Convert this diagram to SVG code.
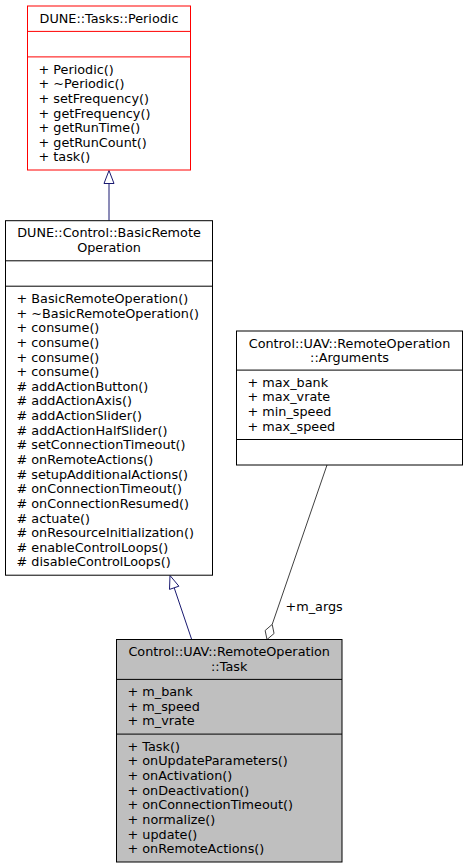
<svg xmlns="http://www.w3.org/2000/svg" width="469" height="868" viewBox="0 0 469 868">
<style>
text{font-family:"DejaVu Sans","Liberation Sans",sans-serif;font-size:12.8px;fill:#000}
.t{text-anchor:middle}
.box{fill:#fff;stroke:#000;stroke-width:1}
.red{fill:#fff;stroke:#ff0000;stroke-width:1}
.cur{fill:#bfbfbf;stroke:#000;stroke-width:1}
.sep{stroke:#000;stroke-width:1}
.sepr{stroke:#ff0000;stroke-width:1}
.inh{stroke:#191970;stroke-width:1;fill:none}
.inhh{stroke:#191970;stroke-width:1;fill:#fff}
.agg{stroke:#404040;stroke-width:1;fill:none}
.aggh{stroke:#404040;stroke-width:1;fill:#fff}
</style>
<rect width="469" height="868" fill="#fff"/>
<g id="edges">
<line class="inh" x1="109" y1="183.5" x2="109" y2="220.7"/>
<polygon class="inhh" points="109,170.5 104,183.5 114,183.5"/>
<line class="inh" x1="174.2" y1="587.8" x2="191.7" y2="639.5"/>
<polygon class="inhh" points="170,575.5 178.9,586.2 169.5,589.4"/>
<line class="agg" x1="272.2" y1="624.4" x2="327" y2="465"/>
<polygon class="aggh" points="267,639.5 274.05,633.5 272.2,624.4 265.15,630.5"/>
<text x="285.5" y="611">+m_args</text>
</g>
<g id="periodic">
<rect class="red" x="27.5" y="6" width="163" height="164"/>
<line class="sepr" x1="27.5" y1="31.4" x2="190.5" y2="31.4"/>
<line class="sepr" x1="27.5" y1="56.9" x2="190.5" y2="56.9"/>
<text class="t" x="109" y="22.7">DUNE::Tasks::Periodic</text>
<text x="38.5" y="73.6">+ Periodic()</text>
<text x="38.5" y="88.2">+ ~Periodic()</text>
<text x="38.5" y="102.9">+ setFrequency()</text>
<text x="38.5" y="117.5">+ getFrequency()</text>
<text x="38.5" y="132.2">+ getRunTime()</text>
<text x="38.5" y="146.8">+ getRunCount()</text>
<text x="38.5" y="161.4">+ task()</text>
</g>
<g id="basic">
<rect class="box" x="5.5" y="220.7" width="207" height="354.5"/>
<line class="sep" x1="5.5" y1="260.8" x2="212.5" y2="260.8"/>
<line class="sep" x1="5.5" y1="286.2" x2="212.5" y2="286.2"/>
<text class="t" x="109" y="237.4">DUNE::Control::BasicRemote</text>
<text class="t" x="109" y="252">Operation</text>
<text x="16.5" y="302.9">+ BasicRemoteOperation()</text>
<text x="16.5" y="317.5">+ ~BasicRemoteOperation()</text>
<text x="16.5" y="332.2">+ consume()</text>
<text x="16.5" y="346.8">+ consume()</text>
<text x="16.5" y="361.5">+ consume()</text>
<text x="16.5" y="376.1">+ consume()</text>
<text x="16.5" y="390.7"># addActionButton()</text>
<text x="16.5" y="405.4"># addActionAxis()</text>
<text x="16.5" y="420"># addActionSlider()</text>
<text x="16.5" y="434.7"># addActionHalfSlider()</text>
<text x="16.5" y="449.3"># setConnectionTimeout()</text>
<text x="16.5" y="464"># onRemoteActions()</text>
<text x="16.5" y="478.6"># setupAdditionalActions()</text>
<text x="16.5" y="493.2"># onConnectionTimeout()</text>
<text x="16.5" y="507.9"># onConnectionResumed()</text>
<text x="16.5" y="522.5"># actuate()</text>
<text x="16.5" y="537.2"># onResourceInitialization()</text>
<text x="16.5" y="551.8"># enableControlLoops()</text>
<text x="16.5" y="566.4"># disableControlLoops()</text>
</g>
<g id="arguments">
<rect class="box" x="236.5" y="331" width="226" height="134"/>
<line class="sep" x1="236.5" y1="370.1" x2="462.5" y2="370.1"/>
<line class="sep" x1="236.5" y1="439.5" x2="462.5" y2="439.5"/>
<text class="t" x="349.5" y="347.7">Control::UAV::RemoteOperation</text>
<text class="t" x="349.5" y="362.3">::Arguments</text>
<text x="247.5" y="386.8">+ max_bank</text>
<text x="247.5" y="401.4">+ max_vrate</text>
<text x="247.5" y="416.1">+ min_speed</text>
<text x="247.5" y="430.7">+ max_speed</text>
</g>
<g id="task">
<rect class="cur" x="116.5" y="639.5" width="225.5" height="222.5"/>
<line class="sep" x1="116.5" y1="679.4" x2="342" y2="679.4"/>
<line class="sep" x1="116.5" y1="734.1" x2="342" y2="734.1"/>
<text class="t" x="229.2" y="656.2">Control::UAV::RemoteOperation</text>
<text class="t" x="229.2" y="670.8">::Task</text>
<text x="127.5" y="696.1">+ m_bank</text>
<text x="127.5" y="710.7">+ m_speed</text>
<text x="127.5" y="725.4">+ m_vrate</text>
<text x="127.5" y="750.8">+ Task()</text>
<text x="127.5" y="765.4">+ onUpdateParameters()</text>
<text x="127.5" y="780.1">+ onActivation()</text>
<text x="127.5" y="794.7">+ onDeactivation()</text>
<text x="127.5" y="809.4">+ onConnectionTimeout()</text>
<text x="127.5" y="824">+ normalize()</text>
<text x="127.5" y="838.6">+ update()</text>
<text x="127.5" y="853.3">+ onRemoteActions()</text>
</g>
</svg>
